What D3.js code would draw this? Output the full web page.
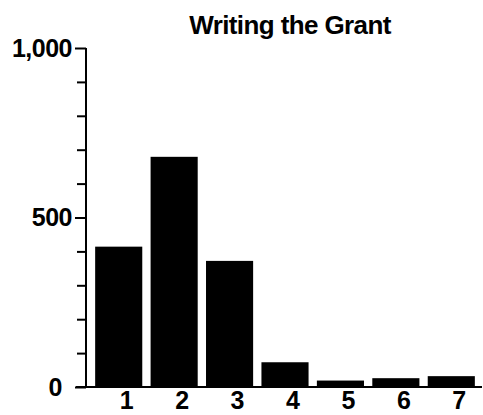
<!DOCTYPE html>
<meta charset="utf-8">
<script src="https://cdn.jsdelivr.net/npm/d3@7"></script>
<style>
body { margin: 0; background: #fff; }
text { font-family: "Liberation Sans", Arial, sans-serif; font-weight: bold; fill: #000; }
.axis path, .axis line { stroke: #000; stroke-width: 2px; }
</style>
<body>
<script>

// chart data
var categories = ["1", "2", "3", "4", "5", "6", "7"];
var values = [414, 679, 372, 73, 19, 26, 32];
var majorTicks = [0, 500, 1000];
var minorTicks = [100, 200, 300, 400, 600, 700, 800, 900];
var title = "Writing the Grant";

var width = 483,
    height = 415;

var svg = d3.select("body").append("svg")
    .attr("width", width)
    .attr("height", height);

var x = d3.scaleBand()
    .domain(categories)
    .range([91, 479])
    .paddingInner(0.15)
    .paddingOuter(0.075);

var y = d3.scaleLinear()
    .domain([0, 1000])
    .range([387, 48]);

// bars
svg.append("g")
    .selectAll("rect")
    .data(values)
    .enter().append("rect")
    .attr("x", function(d, i) { return x(categories[i]); })
    .attr("y", function(d) { return y(d); })
    .attr("width", x.bandwidth())
    .attr("height", function(d) { return y(0) - y(d); })
    .attr("fill", "#000");

// minor ticks on the y axis
svg.append("g")
    .attr("class", "axis")
    .attr("transform", "translate(86,0)")
    .call(d3.axisLeft(y).tickValues(minorTicks).tickSize(9).tickFormat(""))
    .select(".domain").remove();

// main y axis
var yAxis = svg.append("g")
    .attr("class", "axis")
    .attr("transform", "translate(86,0)")
    .call(d3.axisLeft(y).tickValues(majorTicks).tickSize(11).tickSizeOuter(0)
      .tickFormat(d3.format(",")));
yAxis.selectAll("text")
    .attr("x", function(d) { return d === 0 ? -24 : -14; })
    .style("font-size", "25px")
    .style("letter-spacing", "-0.5px");
yAxis.select(".domain").attr("d", "M0," + y(1000) + "V" + y(0));

// x axis
var xAxis = svg.append("g")
    .attr("class", "axis")
    .attr("transform", "translate(0," + y(0) + ")")
    .call(d3.axisBottom(x).tickSize(0));
xAxis.select(".domain").attr("d", "M76,0H482");
xAxis.selectAll("text")
    .attr("dx", 8)
    .attr("y", 4)
    .style("font-size", "25px");

// title
svg.append("text")
    .attr("x", 290)
    .attr("y", 34)
    .attr("text-anchor", "middle")
    .style("font-size", "26px")
    .style("letter-spacing", "-0.6px")
    .text(title);

</script>
</body>
